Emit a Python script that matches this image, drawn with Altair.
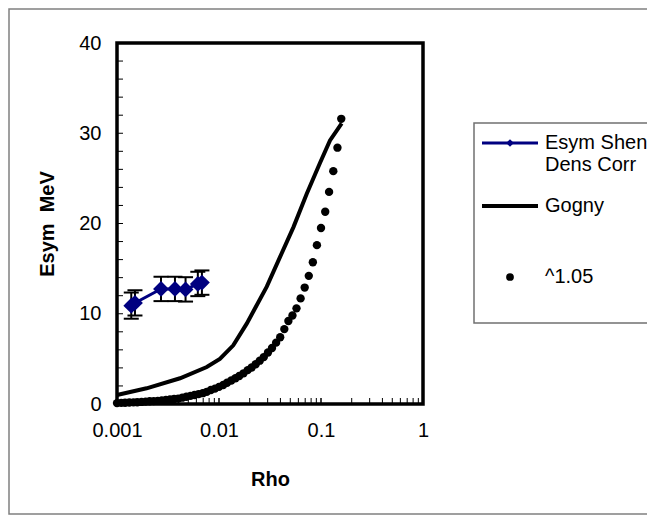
import altair as alt
import pandas as pd

# ---- data ----
shen_rho = [0.00138, 0.00150, 0.0027, 0.0037, 0.0047, 0.0062, 0.0068]
shen_esym = [10.9, 11.2, 12.75, 12.75, 12.7, 13.3, 13.45]
shen_err = [1.45, 1.4, 1.35, 1.35, 1.35, 1.35, 1.35]

gogny_rho = [0.001, 0.00195, 0.00415, 0.00759, 0.0102, 0.0138, 0.0187, 0.0294,
             0.0397, 0.0537, 0.0725, 0.0977, 0.1225, 0.1595]
gogny_esym = [1.0, 1.74, 2.85, 4.1, 5.0, 6.5, 8.9, 13.0, 16.3, 19.6, 23.3, 26.7, 29.2, 31.1]

pow_rho = [0.00100, 0.00110, 0.00120, 0.00132, 0.00145, 0.00158, 0.00174, 0.00191,
           0.00209, 0.00229, 0.00251, 0.00275, 0.00302, 0.00331, 0.00363, 0.00398,
           0.00437, 0.00479, 0.00525, 0.00575, 0.00631, 0.00692, 0.00759, 0.00832,
           0.00912, 0.0100, 0.0110, 0.0120, 0.0132, 0.0145, 0.0158, 0.0174,
           0.0191, 0.0209, 0.0229, 0.0251, 0.0275, 0.0302, 0.0331, 0.0363,
           0.0398, 0.0437, 0.0479, 0.0525, 0.0575, 0.0631, 0.0692, 0.0759,
           0.0832, 0.0912, 0.100, 0.110, 0.120, 0.132, 0.145, 0.158]
pow_esym = [0.10, 0.12, 0.14, 0.16, 0.18, 0.20, 0.23, 0.26,
            0.30, 0.32, 0.35, 0.40, 0.44, 0.50, 0.55, 0.60,
            0.70, 0.80, 0.90, 1.00, 1.10, 1.20, 1.35, 1.55,
            1.70, 1.90, 2.10, 2.35, 2.60, 2.85, 3.10, 3.40,
            3.75, 4.05, 4.40, 4.80, 5.20, 5.70, 6.20, 6.80,
            7.40, 8.30, 9.20, 9.80, 10.6, 11.7, 12.9, 14.2,
            15.7, 17.6, 19.5, 21.3, 23.5, 25.8, 28.4, 31.6]

x_tick_labels = [0.001, 0.01, 0.1, 1]
y_tick_labels = [0, 10, 20, 30, 40]
x_minor = [m * d for d in [0.001, 0.01, 0.1] for m in range(1, 11)]
y_minor = list(range(0, 41, 2))

legend_labels = ["Esym Shen", "Dens Corr", "Gogny", "^1.05"]

FONT = "Liberation Sans"
FS = 20
W, H = 306, 361

shen = pd.DataFrame({"rho": shen_rho, "esym": shen_esym,
                     "lo": [v - e for v, e in zip(shen_esym, shen_err)],
                     "hi": [v + e for v, e in zip(shen_esym, shen_err)]})
gog = pd.DataFrame({"rho": gogny_rho, "esym": gogny_esym})
pw = pd.DataFrame({"rho": pow_rho, "esym": pow_esym})

xs = alt.Scale(type="log", domain=[0.001, 1], nice=False)
ys = alt.Scale(domain=[0, 40], nice=False)

xaxis = alt.Axis(values=x_tick_labels, format=".3~f", labelFontSize=FS, labelFont=FONT,
                 labelPadding=16, ticks=False, tickSize=0, domain=False, grid=False,
                 labelFlush=False, labelOverlap=False, title="Rho", titleFont=FONT,
                 titleFontSize=FS, titleFontWeight="bold", titleX=W / 2, titleY=75,
                 titleAlign="center", titleBaseline="middle", labelColor="black",
                 titleColor="black")
yaxis = alt.Axis(values=y_tick_labels, labelFontSize=FS, labelFont=FONT, labelPadding=16,
                 ticks=False, tickSize=0, domain=False, grid=False,
                 title="Esym\u00a0\u00a0MeV",
                 titleFont=FONT, titleFontSize=FS, titleFontWeight="bold", titleX=-70,
                 titleY=H / 2, titleAlign="center", titleBaseline="middle",
                 labelColor="black", titleColor="black")

one = pd.DataFrame({"a": [0]})

# frames
outer = alt.Chart(one).mark_rect(fillOpacity=0, stroke="#808080", strokeWidth=1.5).encode(
    x=alt.value(-108), x2=alt.value(560), y=alt.value(-34), y2=alt.value(471))
legbox = alt.Chart(one).mark_rect(fillOpacity=0, stroke="#707070", strokeWidth=1.5).encode(
    x=alt.value(357), x2=alt.value(560), y=alt.value(80), y2=alt.value(280))

gog_line = alt.Chart(gog).mark_line(color="black", strokeWidth=4).encode(
    x=alt.X("rho:Q", scale=xs, axis=xaxis), y=alt.Y("esym:Q", scale=ys, axis=yaxis))
pw_pts = alt.Chart(pw).mark_point(filled=True, color="black", size=70, opacity=1,
                                  shape="circle").encode(
    x=alt.X("rho:Q", scale=xs), y=alt.Y("esym:Q", scale=ys))

err_rule = alt.Chart(shen).mark_rule(color="black", strokeWidth=2).encode(
    x=alt.X("rho:Q", scale=xs), y=alt.Y("lo:Q", scale=ys), y2="hi:Q")
cap_lo = alt.Chart(shen).mark_tick(color="black", orient="horizontal", size=15,
                                   thickness=2, opacity=1).encode(
    x=alt.X("rho:Q", scale=xs), y=alt.Y("lo:Q", scale=ys))
cap_hi = alt.Chart(shen).mark_tick(color="black", orient="horizontal", size=15,
                                   thickness=2, opacity=1).encode(
    x=alt.X("rho:Q", scale=xs), y=alt.Y("hi:Q", scale=ys))
shen_line = alt.Chart(shen).mark_line(color="#000080", strokeWidth=3).encode(
    x=alt.X("rho:Q", scale=xs), y=alt.Y("esym:Q", scale=ys))
shen_pts = alt.Chart(shen).mark_point(filled=True, color="#000080", size=250, opacity=1,
                                      shape="diamond").encode(
    x=alt.X("rho:Q", scale=xs), y=alt.Y("esym:Q", scale=ys))

# inward ticks
xt = alt.Chart(pd.DataFrame({"t": x_minor})).mark_rule(color="black", strokeWidth=1).encode(
    x=alt.X("t:Q", scale=xs), y=alt.value(H), y2=alt.value(H - 6))
yt = alt.Chart(pd.DataFrame({"t": y_minor})).mark_rule(color="black", strokeWidth=1).encode(
    y=alt.Y("t:Q", scale=ys), x=alt.value(0), x2=alt.value(6))

# legend
leg1_line = alt.Chart(one).mark_rule(color="#000080", strokeWidth=3).encode(
    x=alt.value(365), x2=alt.value(421), y=alt.value(100))
leg1_pt = alt.Chart(one).mark_point(filled=True, color="#000080", size=60, opacity=1,
                                    shape="diamond").encode(x=alt.value(393), y=alt.value(100))
leg2_line = alt.Chart(one).mark_rule(color="black", strokeWidth=4).encode(
    x=alt.value(365), x2=alt.value(421), y=alt.value(163))
leg3_pt = alt.Chart(one).mark_point(filled=True, color="black", size=60, opacity=1,
                                    shape="circle").encode(x=alt.value(393), y=alt.value(234))
leg_text = alt.Chart(pd.DataFrame({"label": legend_labels, "yy": [100, 122, 163, 234]})).mark_text(
    align="left", baseline="middle", fontSize=FS, font=FONT, color="black").encode(
    x=alt.value(428), y=alt.Y("yy:Q", scale=None), text="label:N")

chart = alt.layer(
    outer, legbox, gog_line, pw_pts, err_rule, cap_lo, cap_hi, shen_line, shen_pts,
    xt, yt, leg1_line, leg1_pt, leg2_line, leg3_pt, leg_text
).properties(
    width=W, height=H,
    autosize=alt.AutoSizeParams(type="none"),
    padding={"left": 109, "top": 35, "right": 224, "bottom": 112},
    background="white",
).configure_view(stroke="black", strokeWidth=3.5)

chart.save("out.html", embed_options={"renderer": "svg", "actions": False})
